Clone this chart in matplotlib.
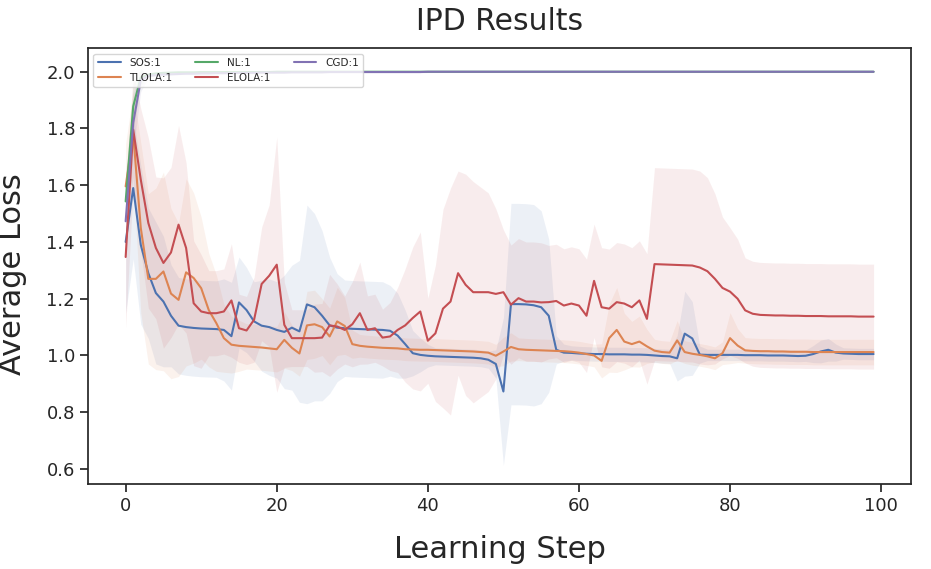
import numpy as np
import matplotlib
matplotlib.use("Agg")
import matplotlib.pyplot as plt
import seaborn as sns

sns.set_theme(style="ticks", palette="deep")

steps = np.arange(100)

# mean loss per learning step
sos_mean = [1.40, 1.59, 1.39, 1.29, 1.22, 1.19, 1.14, 1.105, 1.10, 1.097,
            1.095, 1.094, 1.093, 1.09, 1.068, 1.187, 1.16, 1.12, 1.105, 1.10,
            1.09, 1.083, 1.098, 1.085, 1.18, 1.17, 1.14, 1.106, 1.098, 1.096,
            1.094, 1.093, 1.092, 1.091, 1.09, 1.087, 1.07, 1.04, 1.008, 1.002,
            0.999, 0.997, 0.996, 0.995, 0.994, 0.993, 0.992, 0.99, 0.985, 0.97,
            0.873, 1.181, 1.181, 1.18, 1.177, 1.17, 1.14, 1.02, 1.01, 1.009,
            1.007, 1.006, 1.005, 1.005, 1.004, 1.004, 1.004, 1.003, 1.003, 1.002,
            1.0, 0.998, 0.997, 0.99, 1.077, 1.06, 1.003, 1.002, 1.002, 1.002,
            1.002, 1.002, 1.001, 1.001, 1.001, 1.0, 1.0, 1.0, 0.999, 0.998,
            0.999, 1.005, 1.014, 1.02, 1.01, 1.007, 1.006, 1.005, 1.005, 1.005]
tlola_mean = [1.596, 1.78, 1.45, 1.27, 1.27, 1.296, 1.218, 1.196, 1.293, 1.273,
              1.237, 1.16, 1.114, 1.061, 1.038, 1.034, 1.032, 1.03, 1.028, 1.025,
              1.022, 1.055, 1.027, 1.007, 1.106, 1.11, 1.10, 1.067, 1.12, 1.104,
              1.04, 1.034, 1.031, 1.029, 1.027, 1.026, 1.025, 1.022, 1.021, 1.02,
              1.02, 1.019, 1.018, 1.017, 1.016, 1.015, 1.014, 1.012, 1.01, 0.999,
              1.014, 1.03, 1.022, 1.02, 1.019, 1.018, 1.017, 1.016, 1.015, 1.013,
              1.01, 1.005, 1.0, 0.981, 1.061, 1.09, 1.049, 1.04, 1.049, 1.032,
              1.017, 1.012, 1.01, 1.053, 1.012, 1.006, 1.002, 0.997, 0.99, 1.008,
              1.061, 1.035, 1.018, 1.016, 1.015, 1.015, 1.014, 1.014, 1.013, 1.013,
              1.013, 1.012, 1.012, 1.012, 1.012, 1.012, 1.012, 1.012, 1.012, 1.012]
nl_mean = [1.543, 1.878, 1.98, 1.99, 1.994, 1.996, 1.997, 1.998, 1.998, 1.998,
           1.999, 1.999, 1.999, 1.999, 1.999, 1.999, 1.999, 1.999, 1.999, 1.999] + [2.0] * 80
elola_mean = [1.347, 1.796, 1.62, 1.467, 1.379, 1.326, 1.363, 1.461, 1.379, 1.184,
              1.155, 1.149, 1.149, 1.155, 1.194, 1.096, 1.088, 1.126, 1.252, 1.281,
              1.32, 1.108, 1.061, 1.061, 1.061, 1.061, 1.063, 1.106, 1.102, 1.09,
              1.11, 1.149, 1.09, 1.096, 1.063, 1.067, 1.09, 1.106, 1.132, 1.155,
              1.052, 1.078, 1.165, 1.19, 1.29, 1.249, 1.223, 1.223, 1.223, 1.217,
              1.223, 1.179, 1.202, 1.19, 1.19, 1.187, 1.188, 1.192, 1.176, 1.183,
              1.176, 1.14, 1.263, 1.17, 1.165, 1.188, 1.183, 1.17, 1.194, 1.129,
              1.322, 1.321, 1.32, 1.319, 1.318, 1.317, 1.31, 1.297, 1.27, 1.238,
              1.225, 1.2, 1.159, 1.147, 1.143, 1.142, 1.141, 1.141, 1.14, 1.14,
              1.139, 1.139, 1.139, 1.138, 1.138, 1.138, 1.138, 1.137, 1.137, 1.137]
cgd_mean = [1.473, 1.82, 1.97, 1.985, 1.988, 1.99, 1.991, 1.992, 1.993, 1.993,
            1.994, 1.994, 1.995, 1.995, 1.995, 1.996, 1.996, 1.996, 1.997, 1.997,
            1.997, 1.997, 1.998, 1.998, 1.998, 1.998, 1.998, 1.999, 1.999, 1.999,
            1.999, 1.999, 1.999, 1.999, 1.999, 1.999, 1.999, 1.999, 1.999, 1.999] + [2.0] * 60

# standard deviation per learning step
sos_std = [0.25, 0.25, 0.28, 0.23, 0.25, 0.23, 0.18, 0.17, 0.17, 0.17,
           0.17, 0.17, 0.17, 0.18, 0.19, 0.16, 0.15, 0.14, 0.16, 0.17,
           0.17, 0.2, 0.22, 0.25, 0.35, 0.33, 0.3, 0.24, 0.19, 0.17,
           0.17, 0.17, 0.17, 0.17, 0.17, 0.16, 0.15, 0.12, 0.08, 0.06,
           0.04, 0.03, 0.03, 0.03, 0.03, 0.03, 0.03, 0.03, 0.03, 0.05,
           0.26, 0.355, 0.355, 0.355, 0.355, 0.34, 0.27, 0.05, 0.03, 0.025,
           0.025, 0.025, 0.025, 0.025, 0.025, 0.025, 0.025, 0.025, 0.025, 0.025,
           0.025, 0.025, 0.025, 0.08, 0.15, 0.13, 0.03, 0.02, 0.02, 0.02,
           0.02, 0.02, 0.02, 0.02, 0.02, 0.02, 0.02, 0.02, 0.02, 0.02,
           0.02, 0.03, 0.04, 0.04, 0.03, 0.02, 0.02, 0.02, 0.02, 0.02]
tlola_std = [0.15, 0.15, 0.3, 0.3, 0.32, 0.35, 0.3, 0.27, 0.33, 0.3,
             0.25, 0.2, 0.17, 0.12, 0.1, 0.09, 0.08, 0.08, 0.08, 0.08,
             0.08, 0.1, 0.08, 0.08, 0.12, 0.12, 0.1, 0.1, 0.12, 0.1,
             0.05, 0.04, 0.04, 0.04, 0.04, 0.04, 0.04, 0.04, 0.04, 0.04,
             0.04, 0.04, 0.04, 0.04, 0.04, 0.04, 0.04, 0.04, 0.04, 0.04,
             0.05, 0.05, 0.04, 0.04, 0.04, 0.04, 0.04, 0.04, 0.04, 0.04,
             0.04, 0.04, 0.04, 0.06, 0.12, 0.15, 0.1, 0.08, 0.09, 0.06,
             0.04, 0.04, 0.04, 0.07, 0.04, 0.04, 0.04, 0.04, 0.04, 0.04,
             0.09, 0.06, 0.045, 0.045, 0.045, 0.045, 0.045, 0.045, 0.045, 0.045,
             0.045, 0.045, 0.045, 0.045, 0.045, 0.045, 0.045, 0.045, 0.045, 0.045]
nl_std = [0.08, 0.08, 0.03] + [0.002] * 97
elola_std = [0.25, 0.2, 0.25, 0.3, 0.25, 0.3, 0.3, 0.35, 0.3, 0.22,
             0.2, 0.15, 0.15, 0.15, 0.2, 0.12, 0.12, 0.15, 0.2, 0.25,
             0.45, 0.15, 0.1, 0.1, 0.1, 0.12, 0.12, 0.18, 0.15, 0.12,
             0.15, 0.18, 0.12, 0.12, 0.1, 0.12, 0.15, 0.2, 0.25, 0.28,
             0.15, 0.24, 0.35, 0.4, 0.36, 0.39, 0.39, 0.37, 0.35, 0.3,
             0.22, 0.21, 0.21, 0.21, 0.21, 0.21, 0.2, 0.2, 0.2, 0.2,
             0.2, 0.2, 0.2, 0.21, 0.21, 0.21, 0.21, 0.21, 0.21, 0.23,
             0.34, 0.34, 0.34, 0.34, 0.34, 0.34, 0.34, 0.33, 0.3, 0.25,
             0.225, 0.21, 0.185, 0.185, 0.185, 0.185, 0.185, 0.185, 0.185, 0.185,
             0.185, 0.185, 0.185, 0.185, 0.185, 0.185, 0.185, 0.185, 0.185, 0.185]
cgd_std = [0.1, 0.1, 0.04] + [0.003] * 97

labels = ["SOS:1", "TLOLA:1", "NL:1", "ELOLA:1", "CGD:1"]
means = [sos_mean, tlola_mean, nl_mean, elola_mean, cgd_mean]
stds = [sos_std, tlola_std, nl_std, elola_std, cgd_std]
colors = sns.color_palette("deep")

fig, ax = plt.subplots(figsize=(9.31, 5.69), dpi=100)
fig.subplots_adjust(left=0.0948, right=0.9785, top=0.9148, bottom=0.1494)

for lab, m, s, c in zip(labels, means, stds, colors):
    m = np.array(m)
    s = np.array(s)
    ax.plot(steps, m, color=c, lw=1.5, label=lab)
    ax.fill_between(steps, m - s, m + s, color=c, alpha=0.1, lw=0)

ax.set_ylim(0.547, 2.082)
ax.set_yticks(np.arange(0.6, 2.01, 0.2))
ax.set_xticks([0, 20, 40, 60, 80, 100])
ax.tick_params(labelsize=13)
ax.set_title("IPD Results", fontsize=21.5, pad=13)
ax.set_xlabel("Learning Step", fontsize=22, labelpad=14)
ax.set_ylabel("Average Loss", fontsize=22)
ax.yaxis.set_label_coords(-0.074, 0.483)
ax.legend(loc="upper left", ncol=3, fontsize=7.5, handlelength=2.2,
          columnspacing=2.2, handletextpad=0.85)

fig.savefig("out.png", dpi=100)
